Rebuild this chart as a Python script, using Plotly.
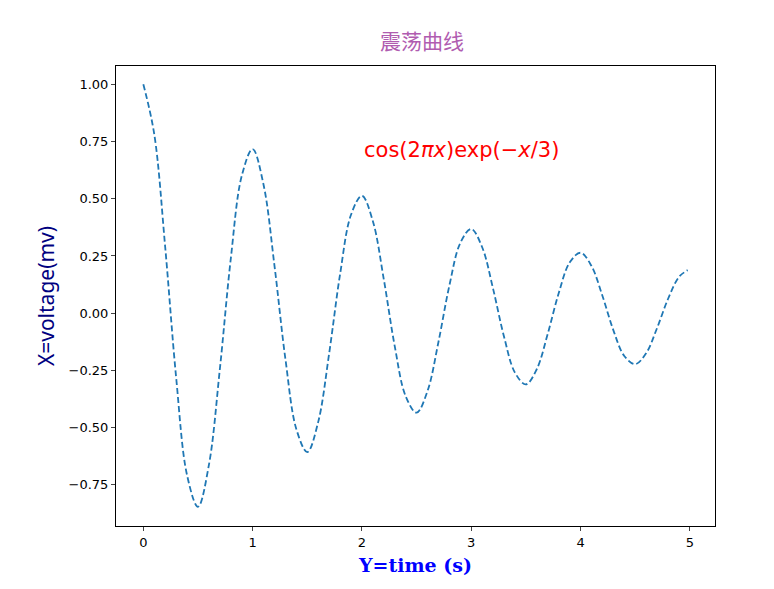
import plotly.graph_objects as go

# values
x_vals = [0.0, 0.1, 0.2, 0.3, 0.4, 0.5, 0.6, 0.7, 0.8, 0.9,
          1.0, 1.1, 1.2, 1.3, 1.4, 1.5, 1.6, 1.7, 1.8, 1.9,
          2.0, 2.1, 2.2, 2.3, 2.4, 2.5, 2.6, 2.7, 2.8, 2.9,
          3.0, 3.1, 3.2, 3.3, 3.4, 3.5, 3.6, 3.7, 3.8, 3.9,
          4.0, 4.1, 4.2, 4.3, 4.4, 4.5, 4.6, 4.7, 4.8, 4.9, 4.98]
y_vals = [1.0, 0.782, 0.289, -0.280, -0.708, -0.846, -0.663, -0.245, 0.237, 0.599,
          0.717, 0.561, 0.207, -0.201, -0.507, -0.607, -0.475, -0.176, 0.170, 0.430,
          0.513, 0.402, 0.148, -0.144, -0.363, -0.435, -0.340, -0.126, 0.121, 0.307,
          0.368, 0.288, 0.106, -0.103, -0.260, -0.311, -0.244, -0.090, 0.087, 0.221,
          0.264, 0.206, 0.076, -0.074, -0.187, -0.223, -0.175, -0.065, 0.062, 0.158, 0.188]
x_ticks = [0, 1, 2, 3, 4, 5]
y_ticks = [-0.75, -0.5, -0.25, 0.0, 0.25, 0.5, 0.75, 1.0]

fig = go.Figure(go.Scatter(x=x_vals, y=y_vals, mode='lines',
                           line=dict(color='#1f77b4', width=1.8, dash='6px,3px', shape='spline')))

axis_style = dict(showline=True, linecolor='black', linewidth=1, mirror=True,
                  ticks='outside', ticklen=4, showgrid=False, zeroline=False,
                  tickfont=dict(family='DejaVu Sans', size=13, color='black'))

fig.update_layout(
    width=774, height=589, plot_bgcolor='white', paper_bgcolor='white',
    margin=dict(l=108, r=67, t=58, b=71), showlegend=False,
    title=dict(text='震荡曲线', x=0.535, xanchor='center', y=0.955,
               font=dict(family='Noto Sans CJK SC', size=21, color='#b05cb0')),
    xaxis=dict(range=[-0.25, 5.23], tickvals=x_ticks, tickformat='d',
               title=dict(text='<b>Y=time (s)</b>', standoff=10,
                          font=dict(family='DejaVu Serif', size=19, color='blue')),
               **axis_style),
    yaxis=dict(range=[-0.93, 1.08], tickvals=y_ticks, tickformat='.2f',
               title=dict(text='X=voltage(mv)', standoff=8,
                          font=dict(family='Noto Sans', size=21, color='navy')),
               **axis_style),
    annotations=[dict(x=2, y=0.65, xanchor='left', yanchor='bottom', showarrow=False,
                      text='cos(2<i>π</i><i>x</i>)exp(−<i>x</i>/3)',
                      font=dict(family='DejaVu Sans', size=21, color='red'))],
)

fig.write_html("out.html")
